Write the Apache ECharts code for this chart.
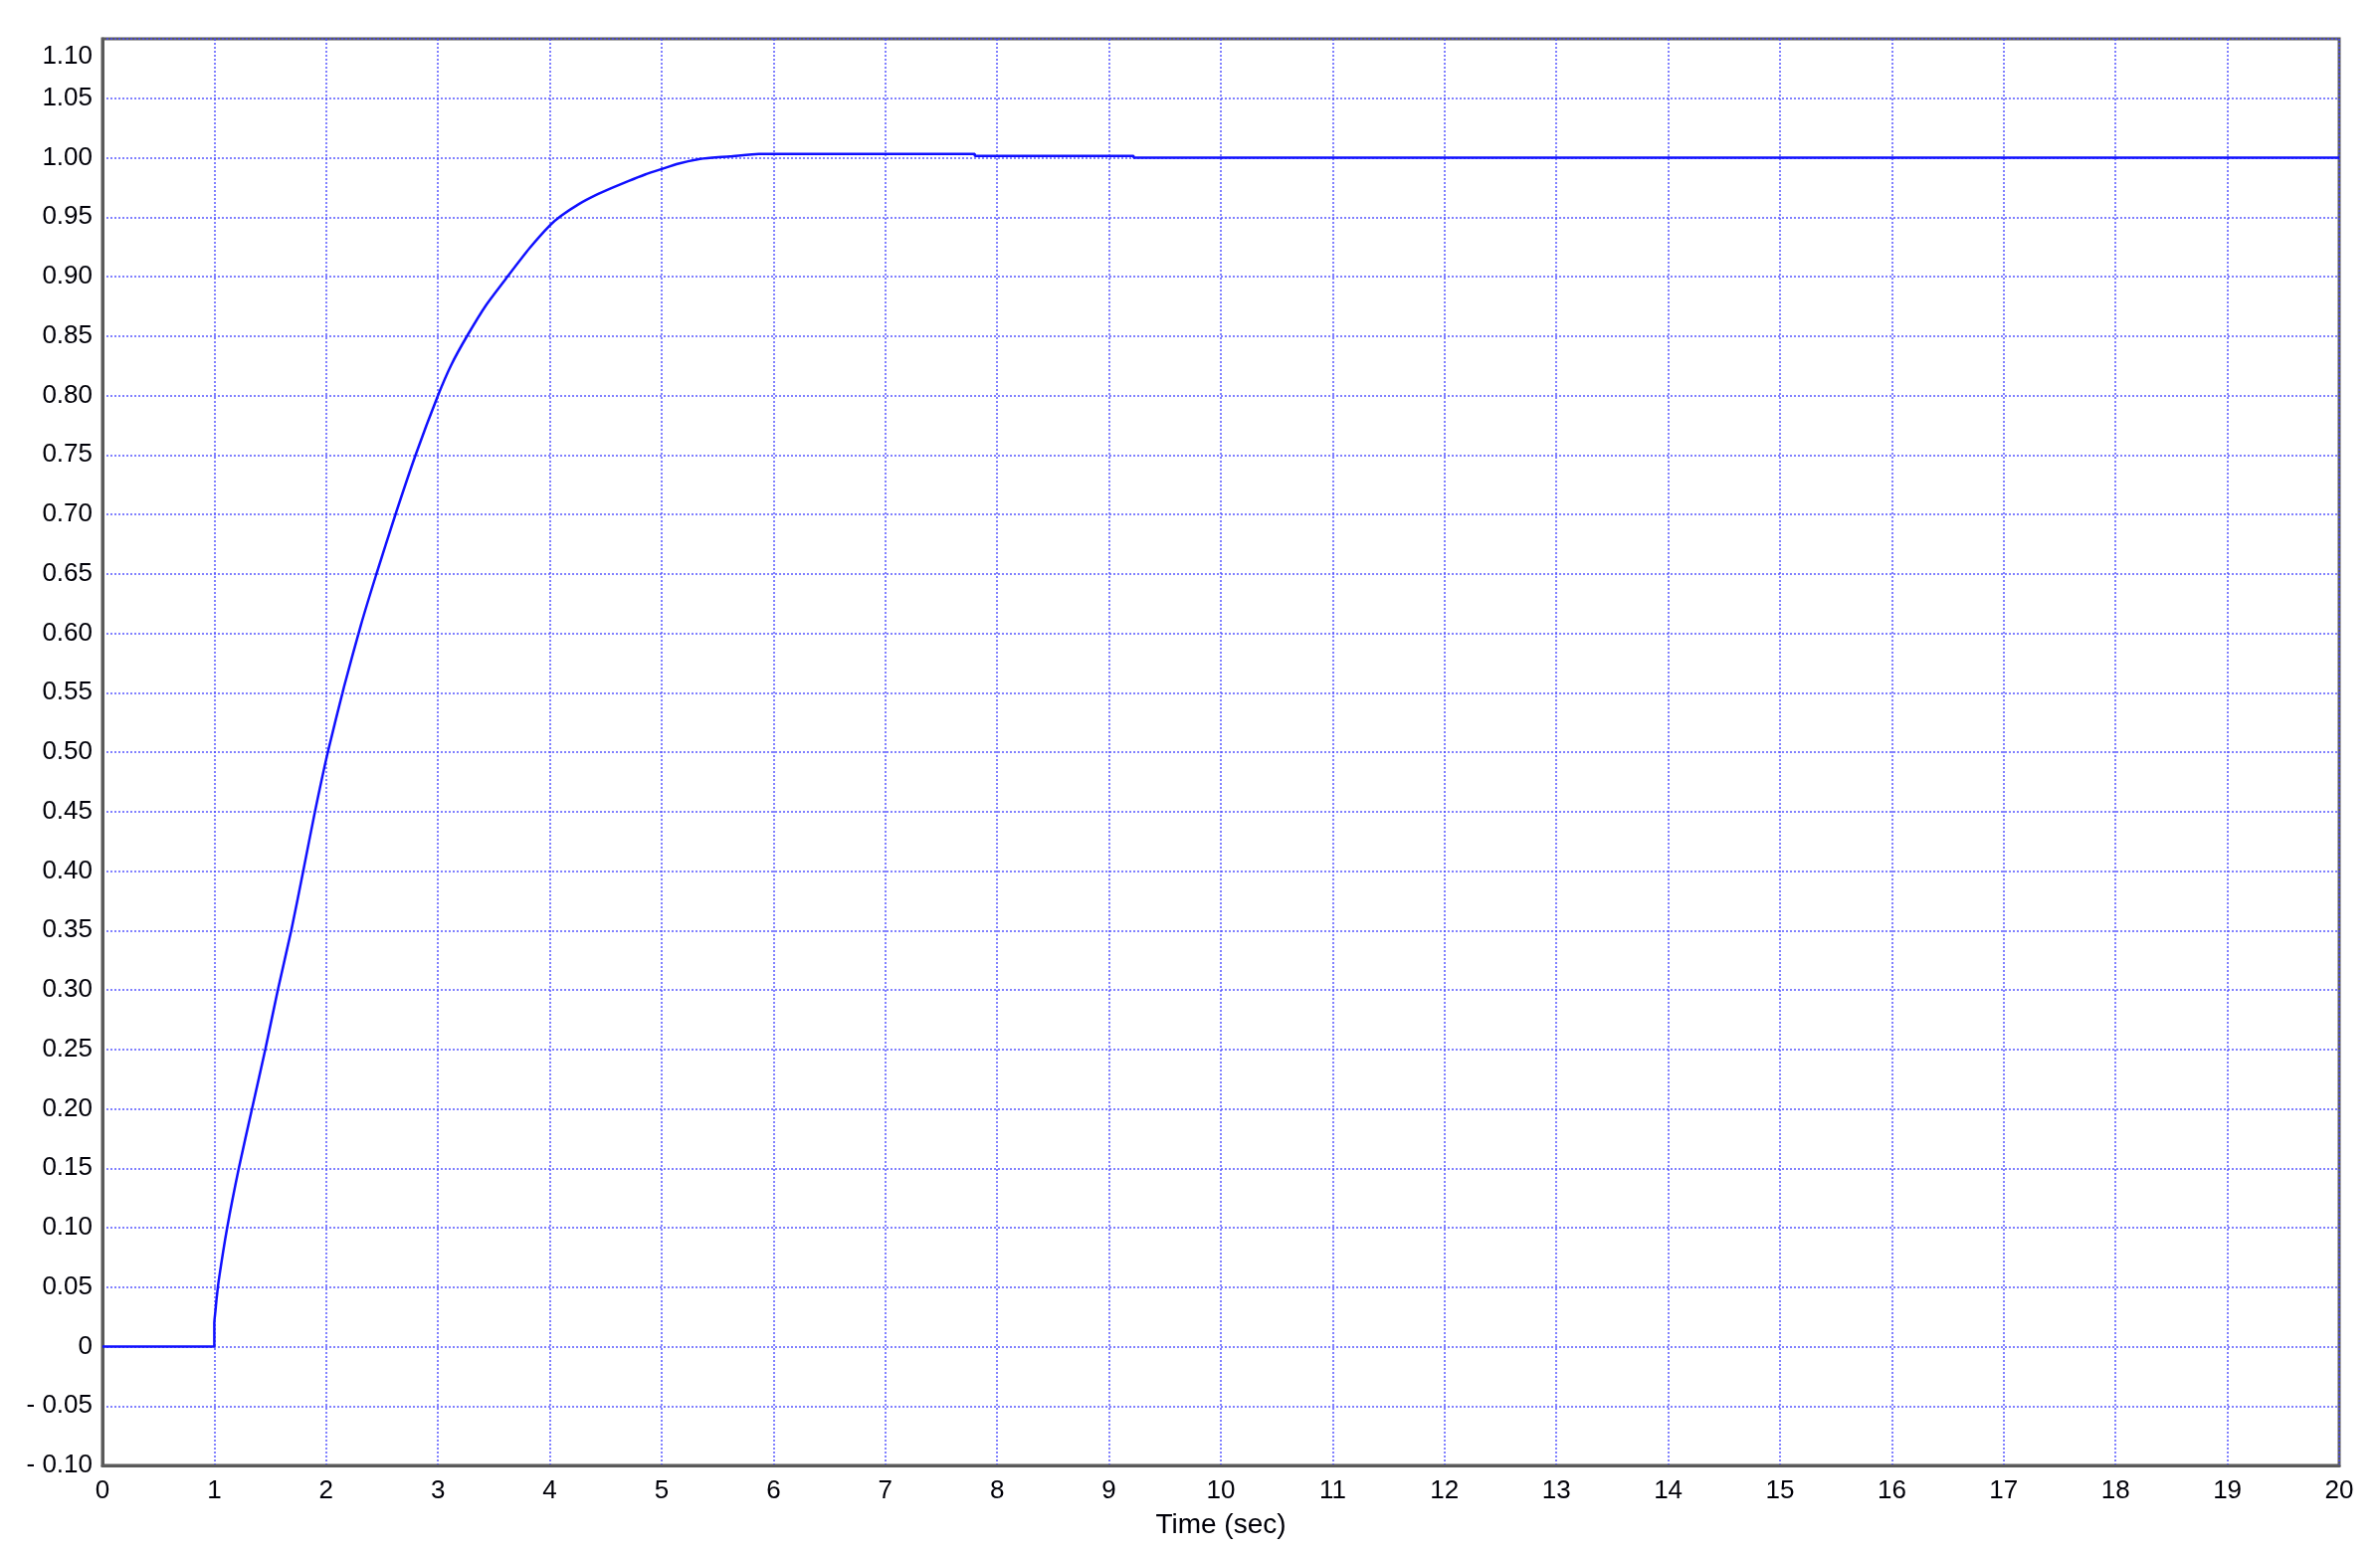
<!DOCTYPE html>
<html>
<head>
<meta charset="utf-8">
<script src="https://cdn.jsdelivr.net/npm/echarts@6/dist/echarts.min.js"></script>
<style>
html,body{margin:0;padding:0;background:#fff;}
#chart{width:2392px;height:1561px;}
</style>
</head>
<body>
<div id="chart"></div>
<script>
// Step response
var timeValues = [0, 1, 1.0, 1.01, 1.02, 1.04, 1.115, 1.219, 1.337, 1.456, 1.568, 1.688, 1.795, 1.90, 2.015, 2.16, 2.311, 2.45, 2.62, 2.80, 3.00, 3.12, 3.26, 3.43, 3.63, 3.82, 4.00, 4.10, 4.26, 4.41, 4.56, 4.70, 4.85, 5.00, 5.15, 5.32, 5.45, 5.61, 5.87, 7.80, 7.80, 9.22, 9.22, 20];
var responseValues = [0, 0, 0.02, 0.03, 0.04, 0.056, 0.10, 0.15, 0.20, 0.25, 0.30, 0.35, 0.40, 0.45, 0.50, 0.555, 0.607, 0.65, 0.70, 0.75, 0.80, 0.826, 0.85, 0.876, 0.901, 0.924, 0.943, 0.951, 0.961, 0.9685, 0.9748, 0.9803, 0.9858, 0.9905, 0.995, 0.9986, 1.0, 1.001, 1.0032, 1.0032, 1.0015, 1.0015, 1.0, 1.0];
var xAxisName = 'Time (sec)';

var seriesData = timeValues.map(function (t, i) { return [t, responseValues[i]]; });

function yLabel(v) {
  if (Math.abs(v) < 1e-9) return '0';
  var s = Math.abs(v).toFixed(2);
  if (v < 0) s = '- ' + s;
  if (Math.abs(v - 1.1) < 1e-9) s = '\n' + s;
  return s;
}

var chart = echarts.init(document.getElementById('chart'));
var gridLine = { show: true, lineStyle: { color: '#4646ff', width: 1.6, type: [2, 2], opacity: 0.85 } };
var labelFont = { fontFamily: '"Liberation Sans", Arial, sans-serif', fontSize: 26, color: '#000008' };
chart.setOption({
  animation: false,
  backgroundColor: '#fff',
  grid: { left: 103, right: 41, top: 39, bottom: 88, show: true, borderColor: '#5a5a5a', borderWidth: 3, containLabel: false },
  xAxis: {
    type: 'value', min: 0, max: 20, interval: 1,
    name: xAxisName, nameLocation: 'middle', nameGap: 46,
    nameTextStyle: { fontFamily: '"Liberation Sans", Arial, sans-serif', fontSize: 28, color: '#000008' },
    axisLine: { show: true, onZero: false, lineStyle: { color: '#5a5a5a', width: 3 } },
    axisTick: { show: false },
    axisLabel: Object.assign({ margin: 13, showMaxLabel: true, showMinLabel: true }, labelFont),
    splitLine: gridLine
  },
  yAxis: {
    type: 'value', min: -0.1, max: 1.1, interval: 0.05,
    axisLine: { show: true, onZero: false, lineStyle: { color: '#5a5a5a', width: 3 } },
    axisTick: { show: false },
    axisLabel: Object.assign({ margin: 10, showMaxLabel: true, showMinLabel: true, formatter: yLabel, lineHeight: 36 }, labelFont),
    splitLine: gridLine
  },
  series: [{
    type: 'line', data: seriesData, showSymbol: false, symbol: 'none',
    smooth: 0.2,
    lineStyle: { color: '#1010ff', width: 2.5 }, z: 5
  }]
});
</script>
</body>
</html>
